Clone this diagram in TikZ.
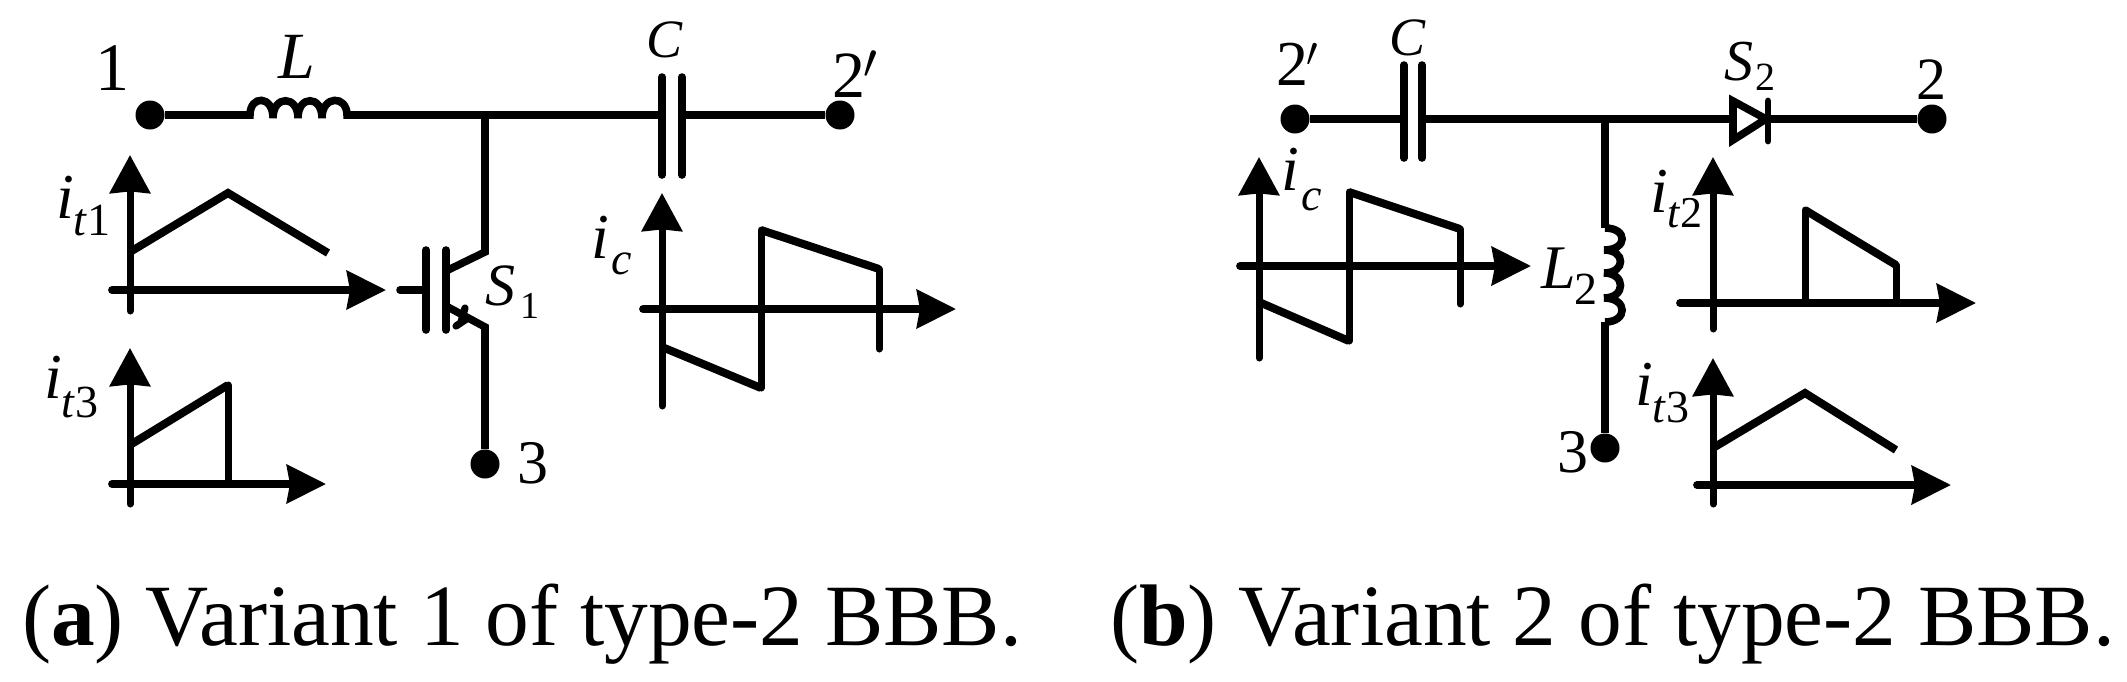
\documentclass[tikz,border=0pt]{standalone}
\usepackage{fontspec}
\usetikzlibrary{arrows.meta}
\setmainfont{Liberation Serif}
\newcommand\fsz[1]{\fontsize{#1}{#1}\selectfont}
\tikzset{
  wire/.style={line width=3.8pt,line join=miter},
  thinw/.style={line width=3.8pt,line cap=round,line join=miter},
  wave/.style={line width=4pt,line join=miter},
  vaxis/.style={line width=3.5pt,line cap=round,-{Stealth[length=19pt,width=20pt,inset=0.8pt]}},
  haxis/.style={line width=3.9pt,line cap=round,-{Stealth[length=19.5pt,width=19pt,inset=1.5pt]}},
  term/.style={circle,fill=black,draw=none,minimum size=14.5pt,inner sep=0pt},
  lab/.style={inner sep=0pt,outer sep=0pt},
  blab/.style={inner sep=0pt,outer sep=0pt,anchor=base west},
}
\begin{document}
\begin{tikzpicture}[x=0.5pt,y=-0.5pt]
\useasboundingbox (0,0) rectangle (2127,681);
% ---- panel (a) circuit
\node[term] (t1) at (150,115) {};
\node[term] (t2p) at (840,115) {};
\node[term] (t3) at (485,464) {};
\coordinate (La) at (248,115);
\coordinate (Lb) at (349,115);
\coordinate (J) at (485,115);
\coordinate (C1) at (662,115);
\coordinate (C2) at (682,115);
\coordinate (Coll) at (485,252);
\coordinate (Emit) at (485,327);
\coordinate (Gbar) at (426,290);
\coordinate (Gend) at (400,290);
\draw[wire] (t1) -- (La);
\draw[wire] (La) -- (250,115) .. controls (250,95) and (273,95) .. (273,118)
  .. controls (273,95) and (298,95) .. (298,118)
  .. controls (298,95) and (322,95) .. (322,118)
  .. controls (322,95) and (347,95) .. (347,115) -- (Lb);
\draw[wire] (Lb) -- (J) -- (C1);
\draw[wire] (C2) -- (t2p);
\draw[thinw] (662,77) -- (662,175);
\draw[thinw] (682,77) -- (682,175);
\draw[wire] (J) -- (Coll) -- (446,271);
\draw[wire] (t3) -- (Emit) -- (446,306);
\draw[thinw] (426,250) -- (426,330);
\draw[thinw] (446,250) -- (446,330);
\draw[thinw] (Gend) -- (Gbar);
\draw[line width=3.6pt,line cap=round] (465,308) -- (461,322);
\draw[line width=3.6pt,line cap=round] (456,326) -- (468,318);
% ---- panel (a) waveforms
\coordinate (a1v0) at (130,311); \coordinate (a1v1) at (130,155);
\coordinate (a1h0) at (112,290); \coordinate (a1h1) at (386,290);
\draw[vaxis] (a1v0) -- (a1v1);
\draw[haxis] (a1h0) -- (a1h1);
\draw[wave] (130,252) -- (228,193) -- (328,253);
\coordinate (a3v0) at (130,504); \coordinate (a3v1) at (130,348);
\coordinate (a3h0) at (112,484); \coordinate (a3h1) at (326,484);
\draw[vaxis] (a3v0) -- (a3v1);
\draw[haxis] (a3h0) -- (a3h1);
\draw[wave] (130,445) -- (228,385);
\draw[vaxis,-] (228,385) -- (228,484);
\coordinate (acv0) at (662,406); \coordinate (acv1) at (662,193);
\coordinate (ach0) at (643,309); \coordinate (ach1) at (956,309);
\draw[vaxis] (acv0) -- (acv1);
\draw[haxis] (ach0) -- (ach1);
\draw[wave] (662,347) -- (761,388);
\draw[vaxis,-] (761,388) -- (761,230);
\draw[wave] (761,230) -- (879,269);
\draw[vaxis,-] (879,269) -- (879,349);
% ---- panel (a) labels
\node[lab] (n1) at (112,68) {\fsz{34}1};
\node[lab] (nL) at (297,57) {\fsz{33}\textit{L}};
\node[lab] (nC) at (665,40) {\fsz{27}\textit{C}};
\node[blab] (n2p) at (832,97) {\fsz{33}2\kern-1pt$^{\prime}$};
\node[lab] (n3) at (533,463) {\fsz{31}3};
\node[blab] (nS1) at (485,305) {\fsz{30}\textit{S}\kern2.5pt\raisebox{-6.5pt}{\fsz{19}1}};
\node[blab] (nit1) at (56,218) {\fsz{32}\textit{i}\kern0pt\raisebox{-8.5pt}{\fsz{23}\textit{t}1}};
\node[blab] (nit3) at (44,398) {\fsz{32}\textit{i}\kern0pt\raisebox{-9.5pt}{\fsz{23}\textit{t}3}};
\node[blab] (nic) at (591,258) {\fsz{32}\textit{i}\kern1.5pt\raisebox{-8pt}{\fsz{23}\textit{c}}};
% ---- panel (b) circuit
\node[term] (u2p) at (1295,119) {};
\node[term] (u2) at (1932,119) {};
\node[term] (u3) at (1605,448) {};
\coordinate (D1) at (1404,119);
\coordinate (D2) at (1422,119);
\coordinate (K) at (1605,119);
\coordinate (Da) at (1733,119);
\coordinate (Dk) at (1768,119);
\coordinate (Lt) at (1605,228);
\coordinate (Lu) at (1605,322);
\draw[wire] (u2p) -- (D1);
\draw[wire] (D2) -- (K) -- (Da);
\draw[wire] (Dk) -- (u2);
\draw[thinw] (1404,65) -- (1404,158);
\draw[thinw] (1422,65) -- (1422,158);
\draw[wire] (1733,101) -- (1766,119) -- (1733,140) -- cycle;
\draw[line width=3.4pt,line cap=round] (1768,101) -- (1768,141);
\draw[wire] (K) -- (Lt);
\draw[wire] (Lt) .. controls (1628,228) and (1628,250) .. (1604,250)
  .. controls (1626,250) and (1626,273) .. (1604,273)
  .. controls (1626,273) and (1626,298) .. (1604,298)
  .. controls (1628,298) and (1628,322) .. (Lu);
\draw[wire] (Lu) -- (u3);
% ---- panel (b) waveforms
\coordinate (bcv0) at (1259,358); \coordinate (bcv1) at (1259,157);
\coordinate (bch0) at (1240,266); \coordinate (bch1) at (1531,266);
\draw[vaxis] (bcv0) -- (bcv1);
\draw[haxis] (bch0) -- (bch1);
\draw[wave] (1259,302) -- (1349,341);
\draw[vaxis,-] (1349,341) -- (1349,192);
\draw[wave] (1349,192) -- (1460,229);
\draw[vaxis,-] (1460,229) -- (1460,304);
\coordinate (b2v0) at (1713,329); \coordinate (b2v1) at (1713,157);
\coordinate (b2h0) at (1680,303); \coordinate (b2h1) at (1976,303);
\draw[vaxis] (b2v0) -- (b2v1);
\draw[haxis] (b2h0) -- (b2h1);
\draw[vaxis,-] (1805,303) -- (1805,210);
\draw[wave] (1805,210) -- (1896,265);
\draw[vaxis,-] (1896,265) -- (1896,303);
\coordinate (b3v0) at (1713,504); \coordinate (b3v1) at (1713,358);
\coordinate (b3h0) at (1697,485); \coordinate (b3h1) at (1951,485);
\draw[vaxis] (b3v0) -- (b3v1);
\draw[haxis] (b3h0) -- (b3h1);
\draw[wave] (1713,448) -- (1805,393) -- (1896,450);
% ---- panel (b) labels
\node[blab] (m2p) at (1276,85) {\fsz{32}2\kern-1pt$^{\prime}$};
\node[lab] (mC) at (1408,38) {\fsz{27}\textit{C}};
\node[blab] (mS2) at (1724,80) {\fsz{29}\textit{S}\kern1pt\raisebox{-5pt}{\fsz{20}2}};
\node[lab] (m2) at (1931,80) {\fsz{30}2};
\node[blab] (mic) at (1281,190) {\fsz{32}\textit{i}\kern1.5pt\raisebox{-10pt}{\fsz{23}\textit{c}}};
\node[blab] (mL2) at (1541,288) {\fsz{31}\textit{L}\kern-0.5pt\raisebox{-8pt}{\fsz{23}2}};
\node[blab] (mit2) at (1650,212) {\fsz{32}\textit{i}\kern0pt\raisebox{-7.5pt}{\fsz{22}\textit{t}2}};
\node[blab] (mit3) at (1635,405) {\fsz{32}\textit{i}\kern0pt\raisebox{-8.5pt}{\fsz{23}\textit{t}3}};
\node[lab] (m3) at (1573,452) {\fsz{31}3};
% ---- captions
\node[blab] (capa) at (22,645) {\fsz{43.7}(\textbf{a}) Variant 1 of type-2 BBB.};
\node[blab] (capb) at (1110,645) {\fsz{43.7}(\textbf{b}) Variant 2 of type-2 BBB.};
\end{tikzpicture}
\end{document}
